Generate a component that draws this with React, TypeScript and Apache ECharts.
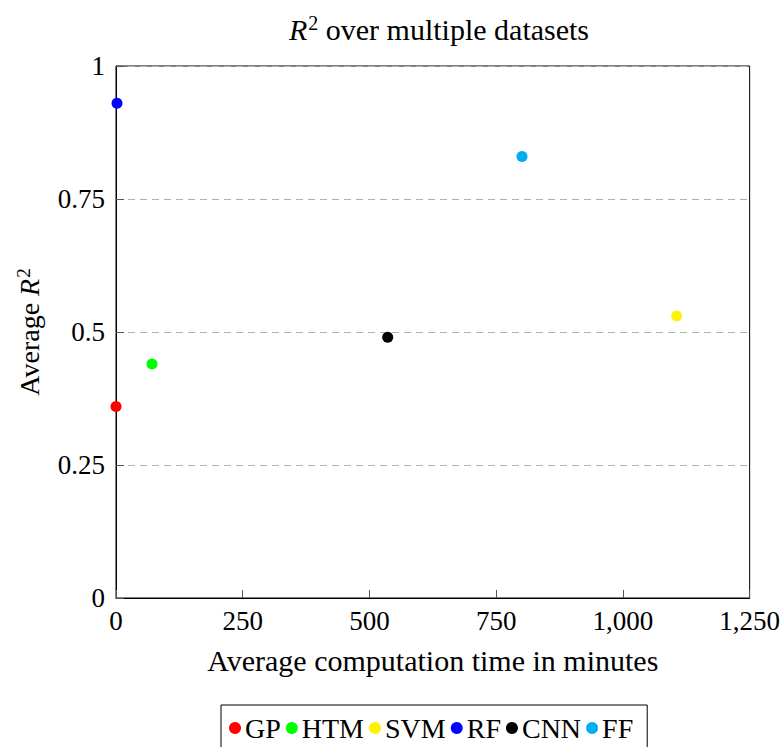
import React, { useEffect, useRef } from "react";
import * as echarts from "echarts";

const seriesNames = ["GP", "HTM", "SVM", "RF", "CNN", "FF"];
const timeMinutes = [0, 71, 1106, 2, 536, 801];
const avgR2 = [0.36, 0.44, 0.53, 0.93, 0.49, 0.83];
const seriesColors = ["#ff0000", "#00ff00", "#fff200", "#0000ff", "#000000", "#00aeef"];
const xTickValues = [0, 250, 500, 750, 1000, 1250];
const yTickValues = [0, 0.25, 0.5, 0.75, 1];

const FONT = "Liberation Serif";

export default function App() {
  const ref = useRef<HTMLDivElement>(null);
  useEffect(() => {
    if (!ref.current) return;
    const chart = echarts.init(ref.current, undefined, { renderer: "svg" });
    const makeRich = (size: number) => ({
      i: { fontFamily: FONT, fontSize: size, fontStyle: "italic", fontWeight: "normal", color: "#000" },
      sup: { fontFamily: FONT, fontSize: Math.round(size * 0.68), fontWeight: "normal", color: "#000", padding: [0, 0, 12, 1] },
      n: { fontFamily: FONT, fontSize: size, fontWeight: "normal", color: "#000" },
    });
    chart.setOption({
      animation: false,
      backgroundColor: "#fff",
      title: {
        text: "{i|R}{sup|2}{n| over multiple datasets}",
        left: 434,
        textAlign: "center",
        top: 8,
        textStyle: { fontWeight: "normal", rich: makeRich(30) },
      },
      grid: {
        left: 116,
        right: 30,
        top: 66,
        bottom: 149,
        show: true,
        borderColor: "#000",
        borderWidth: 1,
        containLabel: false,
      },
      legend: {
        data: seriesNames,
        left: 221,
        top: 705,
        orient: "horizontal",
        icon: "circle",
        itemWidth: 12,
        itemHeight: 12,
        itemGap: 5,
        padding: [9, 14, 14, 8],
        borderColor: "#000",
        borderWidth: 1,
        textStyle: { fontFamily: FONT, fontSize: 28, color: "#000", padding: [0, 0, 0, -1] },
      },
      xAxis: {
        type: "value",
        min: 0,
        max: 1250,
        interval: 250,
        name: "Average computation time in minutes",
        nameLocation: "middle",
        nameGap: 47,
        nameTextStyle: { fontFamily: FONT, fontSize: 30, color: "#000" },
        axisLine: { show: true, lineStyle: { color: "#000", width: 1 } },
        axisTick: { show: true, inside: true, length: 8, lineStyle: { color: "#555" } },
        axisLabel: {
          fontFamily: FONT,
          fontSize: 27,
          color: "#000",
          margin: 9,
          formatter: (v: number) => (xTickValues.includes(v) ? v.toLocaleString("en-US") : ""),
        },
        splitLine: { show: false },
      },
      yAxis: {
        type: "value",
        min: 0,
        max: 1,
        interval: 0.25,
        name: "{n|Average }{i|R}{sup|2}",
        nameLocation: "middle",
        nameRotate: 90,
        nameGap: 71,
        nameTextStyle: { rich: makeRich(28) },
        axisLine: { show: true, lineStyle: { color: "#000", width: 1 } },
        axisTick: { show: true, inside: true, length: 8, lineStyle: { color: "#555" } },
        axisLabel: {
          fontFamily: FONT,
          fontSize: 27,
          color: "#000",
          margin: 11,
          formatter: (v: number) => (yTickValues.includes(v) ? String(v) : ""),
        },
        splitLine: { show: true, lineStyle: { color: "#b0b0b0", type: [7, 5], width: 1 } },
      },
      series: seriesNames.map((name, i) => ({
        name,
        type: "scatter",
        symbol: "circle",
        symbolSize: 11,
        itemStyle: { color: seriesColors[i], opacity: 1 },
        data: [[timeMinutes[i], avgR2[i]]],
        clip: false,
        z: 5,
      })),
    });
    return () => chart.dispose();
  }, []);
  return (
    <div
      ref={ref}
      style={{ position: "fixed", left: 0, top: 0, width: 783, height: 747 }}
    />
  );
}
